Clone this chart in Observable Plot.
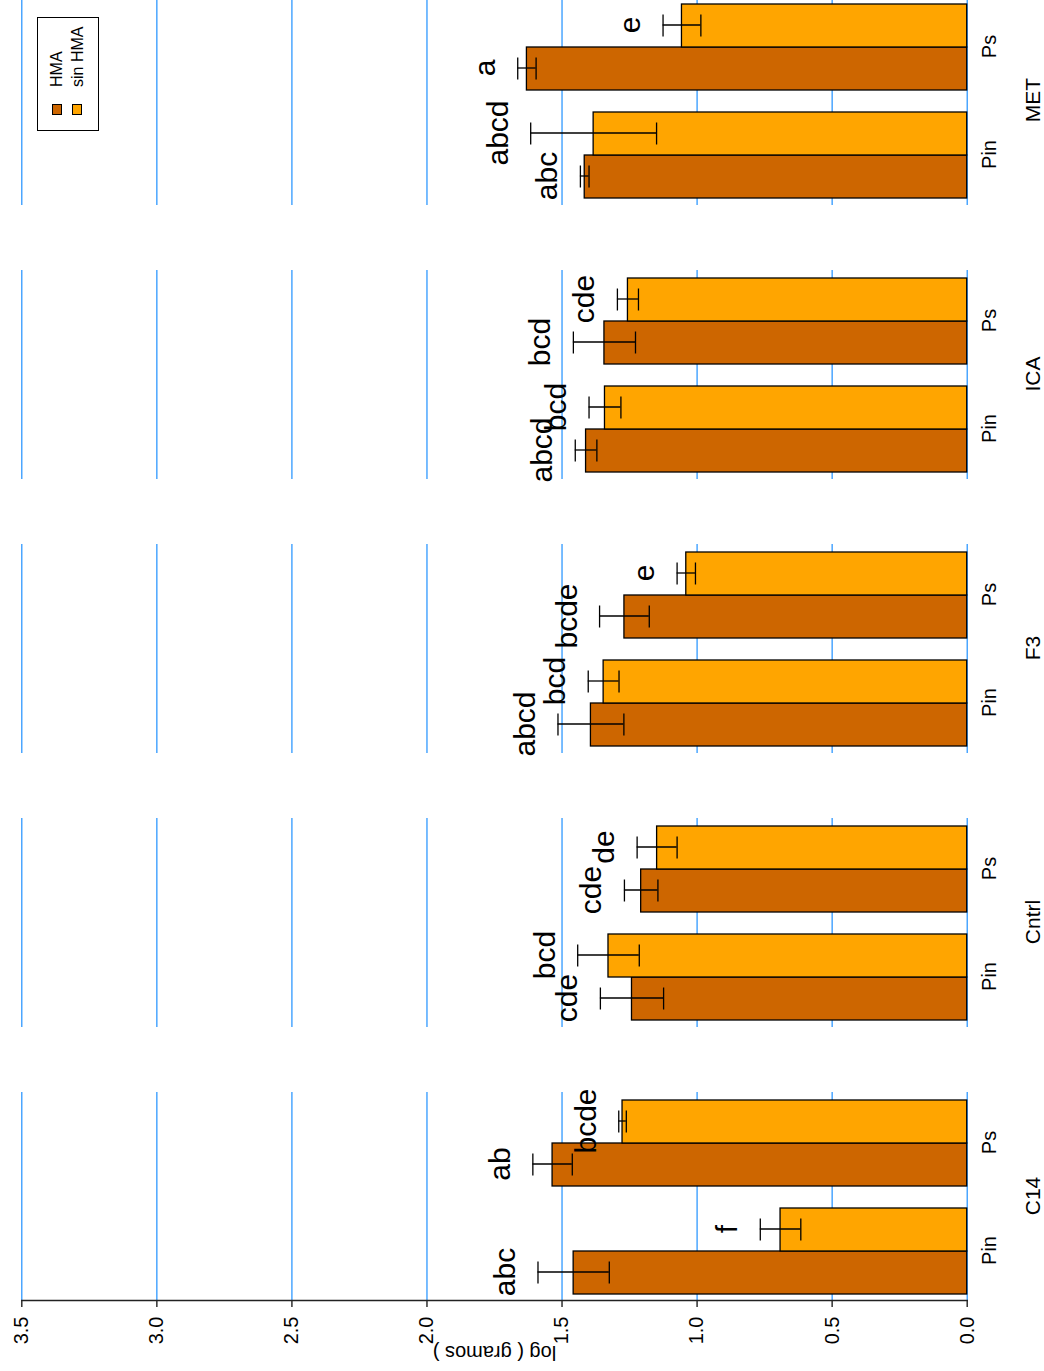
<!DOCTYPE html>
<html>
<head>
<meta charset="utf-8">
<script src="https://cdn.jsdelivr.net/npm/d3@7"></script>
<script src="https://cdn.jsdelivr.net/npm/@observablehq/plot@0.6"></script>
<style>
  html, body { margin: 0; padding: 0; background: #fff; overflow: hidden; }
  #page { position: relative; width: 1044px; height: 1371px; overflow: hidden; background: #fff; }
  /* the chart is laid out landscape, then turned a quarter turn counter-clockwise */
  #turn { position: absolute; left: 0; top: 0; width: 1380px; height: 1044px;
          transform-origin: 0 0; transform: translate(0px, 1371px) rotate(-90deg); }
  #turn svg { position: absolute; left: 0; top: 0; }
  .key { position: absolute; left: 1240px; top: 37px; width: 114px; height: 62px;
         border: 1px solid #000; background: #fff; box-sizing: border-box;
         font: 16px "Liberation Sans", Arial, Helvetica, sans-serif; color: #000; }
  .key .sw { position: absolute; left: 15px; width: 11px; height: 10px; box-sizing: border-box; border: 1px solid #000; }
  .key .lb { position: absolute; left: 43px; line-height: 16px; white-space: nowrap; }
</style>
</head>
<body>
<div id="page"><div id="turn"></div></div>
<script>
// Treatments (panels), host plants (groups) and inoculation series
const treatments = ["C14", "Cntrl", "F3", "ICA", "MET"];
const hosts = ["Pin", "Ps"];
const seriesNames = ["HMA", "sin HMA"];
const seriesColors = ["#CD6600", "#FFA500"];

// log(g) means, standard errors and Tukey letters; order C14 Pin, C14 Ps, Cntrl Pin, ...
const hmaMean = [1.457, 1.535, 1.241, 1.207, 1.393, 1.269, 1.411, 1.343, 1.416, 1.630];
const hmaSE   = [0.132, 0.073, 0.117, 0.062, 0.122, 0.092, 0.040, 0.115, 0.016, 0.034];
const hmaLetters = ["abc", "ab", "cde", "cde", "abcd", "bcde", "abcd", "bcd", "abc", "a"];

const sinMean = [0.691, 1.276, 1.328, 1.148, 1.346, 1.040, 1.341, 1.256, 1.383, 1.056];
const sinSE   = [0.075, 0.014, 0.114, 0.074, 0.057, 0.034, 0.059, 0.039, 0.233, 0.070];
const sinLetters = ["f", "bcde", "bcd", "de", "bcd", "e", "bcd", "cde", "abcd", "e"];

const yTicks = [0, 0.5, 1, 1.5, 2, 2.5, 3, 3.5];
const yTitle = "log ( gramos )";

function rowsFor(name, means, ses, letters) {
  return means.map((m, i) => ({
    treatment: treatments[Math.floor(i / 2)],
    host: hosts[i % 2],
    series: name,
    mean: m,
    se: ses[i],
    letter: letters[i]
  }));
}
const hmaRows = rowsFor(seriesNames[0], hmaMean, hmaSE, hmaLetters);
const sinRows = rowsFor(seriesNames[1], sinMean, sinSE, sinLetters);
const allRows = hmaRows.concat(sinRows);

const font = '"Liberation Sans", Arial, Helvetica, sans-serif';
const layout = {
  width: 1380,
  height: 1044,
  marginLeft: 69,
  marginRight: 4,
  marginTop: 21.3,
  marginBottom: 77.3,
  facet: {marginTop: 0, marginBottom: 0, marginLeft: 0, marginRight: 0},
  fx: {domain: treatments, paddingInner: 0.2386, paddingOuter: 0, label: null},
  x: {domain: hosts, paddingInner: 0.2, paddingOuter: 0.067, label: null},
  y: {domain: [0, 3.5], label: null},
  color: {domain: seriesNames, range: seriesColors}
};

// width of one host group, used to split it into the two side-by-side bars
const probe = Plot.plot({...layout, marks: [Plot.barY(allRows, {fx: "treatment", x: "host", y: "mean"})]});
const bw = probe.scale("x").bandwidth;
const half = bw / 2, quarter = bw / 4;
const capInset = (bw - 22) / 2;

function seriesMarks(rows, side) {
  const shift = side * quarter;
  const common = {fx: "treatment", x: "host"};
  return [
    Plot.barY(rows, {
      ...common, y: "mean", fill: "series", stroke: "#000", strokeWidth: 1.3,
      insetLeft: side < 0 ? 0 : half, insetRight: side < 0 ? half : 0
    }),
    Plot.ruleX(rows, {...common, y1: d => d.mean - d.se, y2: d => d.mean + d.se, dx: shift, stroke: "#000", strokeWidth: 1.3}),
    Plot.tickY(rows, {...common, y: d => d.mean + d.se, dx: shift, insetLeft: capInset, insetRight: capInset, stroke: "#000", strokeWidth: 1.3}),
    Plot.tickY(rows, {...common, y: d => d.mean - d.se, dx: shift, insetLeft: capInset, insetRight: capInset, stroke: "#000", strokeWidth: 1.3}),
    Plot.text(rows, {
      ...common, y: d => d.mean + d.se, text: "letter", dx: shift, dy: -23,
      lineAnchor: "bottom", textAnchor: "middle", fontSize: 30, fill: "#000"
    })
  ];
}

const chart = Plot.plot({
  ...layout,
  style: {fontFamily: font, fontSize: "20px", color: "#000", background: "transparent", overflow: "visible"},
  marks: [
    Plot.gridY(yTicks, {stroke: "#1E90FF", strokeOpacity: 1, strokeWidth: 1.2}),
    ...seriesMarks(hmaRows, -1),
    ...seriesMarks(sinRows, 1),
    Plot.frame({anchor: "left", facet: "super", stroke: "#222", strokeWidth: 1.6}),
    Plot.axisY({
      ticks: yTicks, tickFormat: d3.format(".1f"), tickSize: 6, tickPadding: 10,
      fontSize: 20, stroke: "#222", strokeWidth: 1.4,
      label: yTitle, labelAnchor: "center", labelOffset: 60, labelArrow: "none"
    }),
    Plot.axisX({tickSize: 0, tickPadding: 15, fontSize: 20, label: null}),
    Plot.axisFx({anchor: "bottom", tickSize: 0, tickPadding: 58, fontSize: 21, label: null})
  ]
});

const turn = document.getElementById("turn");
turn.appendChild(chart);

// legend box
const key = document.createElement("div");
key.className = "key";
seriesNames.forEach((name, i) => {
  const sw = document.createElement("div");
  sw.className = "sw";
  sw.style.top = (13.7 + i * 20.4) + "px";
  sw.style.background = seriesColors[i];
  key.appendChild(sw);
  const lb = document.createElement("div");
  lb.className = "lb";
  lb.style.top = (11.2 + i * 20.6) + "px";
  lb.textContent = name;
  key.appendChild(lb);
});
turn.appendChild(key);
</script>
</body>
</html>
